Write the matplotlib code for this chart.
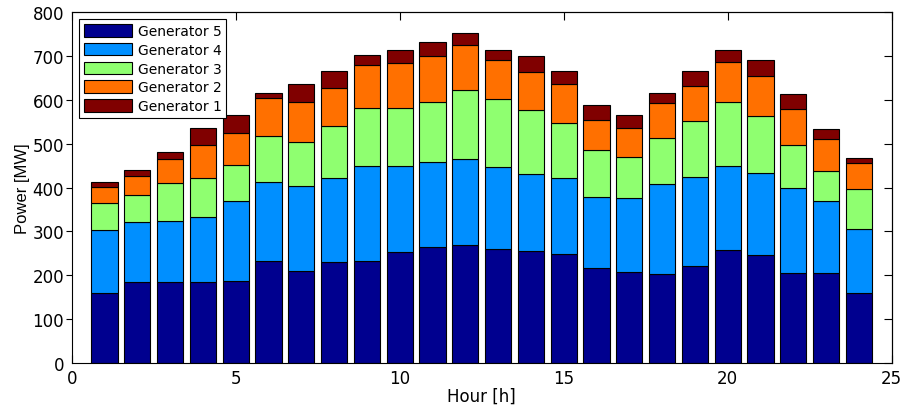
import numpy as np
import matplotlib
matplotlib.use('Agg')
import matplotlib.pyplot as plt

hours = np.arange(1, 25)
gen5 = [161, 186, 184, 184, 188, 232, 210, 231, 233, 253, 265, 269,
        259, 255, 249, 218, 207, 204, 222, 257, 247, 205, 206, 161]
gen4 = [142, 136, 140, 149, 181, 181, 194, 190, 215, 195, 193, 196,
        187, 176, 173, 160, 169, 203, 203, 191, 185, 194, 164, 144]
gen3 = [61, 61, 86, 88, 82, 104, 99, 118, 132, 134, 137, 157,
        155, 146, 124, 107, 93, 105, 127, 147, 130, 98, 67, 92]
gen2 = [38, 44, 54, 75, 73, 86, 91, 88, 98, 101, 105, 102,
        88, 85, 89, 68, 66, 80, 78, 91, 91, 82, 73, 58]
gen1 = [11, 12, 16, 40, 40, 13, 41, 37, 23, 31, 31, 28,
        25, 38, 29, 34, 29, 24, 34, 28, 36, 33, 23, 12]

series = [gen5, gen4, gen3, gen2, gen1]
labels = ['Generator 5', 'Generator 4', 'Generator 3', 'Generator 2', 'Generator 1']
colors = ['#00008f', '#008fff', '#8fff70', '#ff7000', '#800000']

xticks = np.arange(0, 26, 5)
yticks = np.arange(0, 801, 100)

plt.rcParams['font.family'] = ['DejaVu Sans']

fig = plt.figure(figsize=(9.03, 4.14), dpi=100)
ax = fig.add_axes([0.0794, 0.12, 0.9081, 0.8493])

bottom = np.zeros(len(hours))
for vals, lab, col in zip(series, labels, colors):
    ax.bar(hours, vals, width=0.8, bottom=bottom, color=col,
           edgecolor='black', linewidth=0.8, label=lab)
    bottom += np.array(vals)

ax.set_axisbelow(True)
ax.set_xlim(0, 25)
ax.set_ylim(0, 800)
ax.set_xticks(xticks)
ax.set_yticks(yticks)
ax.tick_params(labelsize=12, top=False, right=False)
ax.tick_params(axis='y', direction='out', length=4, pad=1.5)
ax.tick_params(axis='x', direction='in', length=5.5, pad=4)
# no visible outer tick at the corners
ax.yaxis.get_major_ticks()[0].tick1line.set_visible(False)
ax.yaxis.get_major_ticks()[-1].tick1line.set_visible(False)
ax.spines[:].set_linewidth(0.8)

# inward ticks on the top and right edges (box style)
top = ax.secondary_xaxis('top')
top.set_xticks(xticks)
top.tick_params(direction='in', length=5.5, labeltop=False)
top.spines[:].set_linewidth(0.8)
right = ax.secondary_yaxis('right')
right.set_yticks(yticks)
right.tick_params(direction='in', length=5.5, labelright=False)
right.spines[:].set_linewidth(0.8)

ax.set_xlabel('Hour [h]', fontsize=12, labelpad=0)
ax.set_ylabel('Power [MW]', fontsize=12, labelpad=2,
              family=['Liberation Sans Narrow', 'Liberation Sans'])

leg = ax.legend(loc='upper left', fontsize=10, fancybox=False, framealpha=1,
                edgecolor='black', handlelength=3.45, handleheight=1.0,
                labelspacing=0.34, borderaxespad=0.55, handletextpad=0.4,
                borderpad=0.35)
leg.get_frame().set_linewidth(0.8)

fig.savefig('out.png', dpi=100)
